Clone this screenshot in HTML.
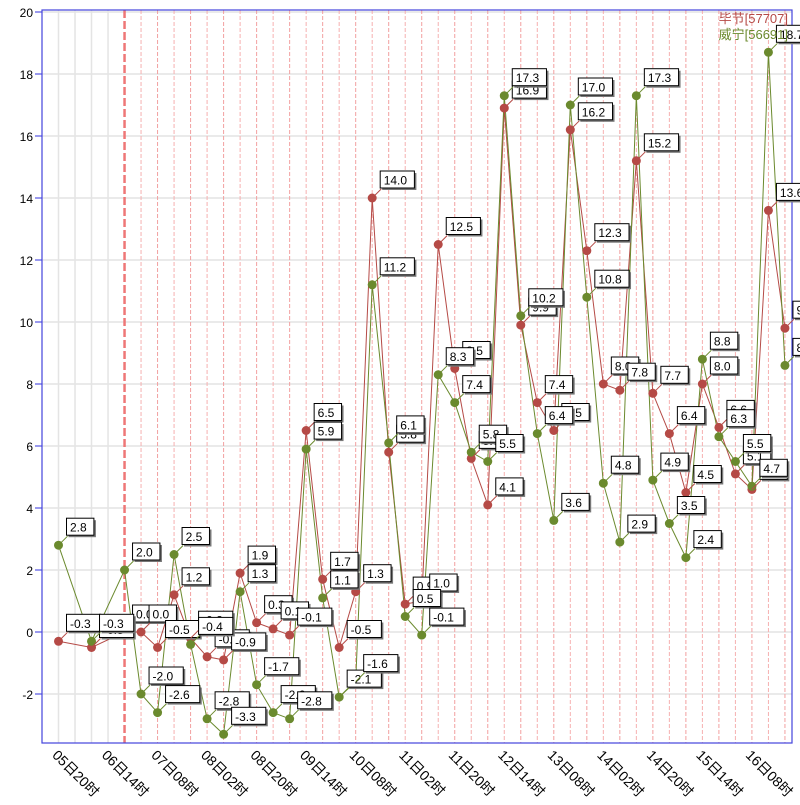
<!DOCTYPE html>
<html><head><meta charset="utf-8"><style>
body{margin:0;background:#fff;}
svg text{font-family:"Liberation Sans","Noto Sans CJK SC",sans-serif;}
</style></head><body>
<svg id="chart" width="800" height="800" xmlns="http://www.w3.org/2000/svg"></svg>
<script>
const slotIdx=[0,2,4,5,6,7,8,9,10,11,12,13,14,15,16,17,18,19,20,21,22,23,24,25,26,27,28,29,30,31,32,33,34,35,36,37,38,39,40,41,42,43,44];
const bijie=[-0.3,-0.5,0.0,0.0,-0.5,1.2,-0.2,-0.8,-0.9,1.9,0.3,0.1,-0.1,6.5,1.7,-0.5,1.3,14.0,5.8,0.9,1.0,12.5,8.5,5.6,4.1,16.9,9.9,7.4,6.5,16.2,12.3,8.0,7.8,15.2,7.7,6.4,4.5,8.0,6.6,5.1,4.6,13.6,9.8];
const weining=[2.8,-0.3,2.0,-2.0,-2.6,2.5,-0.4,-2.8,-3.3,1.3,-1.7,-2.6,-2.8,5.9,1.1,-2.1,-1.6,11.2,6.1,0.5,-0.1,8.3,7.4,5.8,5.5,17.3,10.2,6.4,3.6,17.0,10.8,4.8,2.9,17.3,4.9,3.5,2.4,8.8,6.3,5.5,4.7,18.7,8.6];
const yTicks=[-2,0,2,4,6,8,10,12,14,16,18,20];
const xLabels=["05日20时","06日14时","07日08时","08日02时","08日20时","09日14时","10日08时","11日02时","11日20时","12日14时","13日08时","14日02时","14日20时","15日14时","16日08时"];
const seriesNames=["毕节[57707]","威宁[56691]"];

const L=42,R=792,T=10,B=743;
const x=i=>58.5+16.51*i;
const y=v=>632-31*v;
const NS="http://www.w3.org/2000/svg";
const svg=document.getElementById('chart');
function el(tag,attrs,parent){const e=document.createElementNS(NS,tag);for(const k in attrs)e.setAttribute(k,attrs[k]);(parent||svg).appendChild(e);return e;}

yTicks.forEach(v=>{
  const g=el('line',{x1:L,x2:R,y1:y(v),y2:y(v),stroke:'#e4e4e4','stroke-width':1.5});
  
  
  const tk=el('line',{x1:L-7,x2:L,y1:y(v),y2:y(v),stroke:'#9999ee','stroke-width':2});
  
  
  const t=el('text',{x:L-9,y:y(v)+5,'text-anchor':'end','font-size':12,fill:'#000'});
  t.textContent=v;
  
  
});
for(let i=0;i<=44;i++){
  let attrs;
  if(i<4) attrs={stroke:'#e4e4e4','stroke-width':1.5};
  else if(i==4) attrs={stroke:'#ee7777','stroke-width':2.5,'stroke-dasharray':'8,3'};
  else attrs={stroke:(i%2?'#f6b0b0':'#f2a0a0'),'stroke-width':1,'stroke-dasharray':'4,2'};
  const g=el('line',Object.assign({x1:x(i),x2:x(i),y1:T,y2:B},attrs));
  
  
}
const fr=el('rect',{x:L,y:T,width:R-L,height:B-T,fill:'none',stroke:'#4444dd','stroke-width':1.2});


xLabels.forEach((s,k)=>{
  const px=x(k*3)-7,py=B+13;
  const t=el('text',{x:px,y:py,'font-size':14,fill:'#000',transform:`rotate(45 ${px} ${py})`});
  t.textContent=s;
  
  
});
const colors=['#b54a46','#6b8a2e'];
[bijie,weining].forEach((data,s)=>{
  const pts=data.map((v,j)=>x(slotIdx[j])+','+y(v)).join(' ');
  const pl=el('polyline',{points:pts,fill:'none',stroke:colors[s],'stroke-width':1});
  
  
});
[bijie,weining].forEach((data,s)=>{
  data.forEach((v,j)=>{
    const c=el('circle',{cx:x(slotIdx[j]),cy:y(v),r:4.5,fill:colors[s]});
    
    
  });
});
[bijie,weining].forEach((data,s)=>{
  data.forEach((v,j)=>{
    const px=x(slotIdx[j]),py=y(v);
    const txt=v.toFixed(1);
    const w=txt.length*6.8+7;
    const g=el('g',{});
    
    
    el('line',{x1:px,y1:py,x2:px+9,y2:py-9,stroke:colors[s],'stroke-width':1},g);
    el('rect',{x:px+10,y:py-25,width:w,height:17,fill:'#777'},g);
    el('rect',{x:px+8,y:py-27,width:w,height:17,fill:'#fff',stroke:'#000','stroke-width':1},g);
    const t=el('text',{x:px+11.5,y:py-13.5,'font-size':12,fill:'#000'},g);
    t.textContent=txt;
  });
});
seriesNames.forEach((n,s)=>{
  const t=el('text',{x:788,y:23+s*16,'text-anchor':'end','font-size':13,fill:colors[s]});
  t.textContent=n;
  
  
});
</script>
</body></html>
